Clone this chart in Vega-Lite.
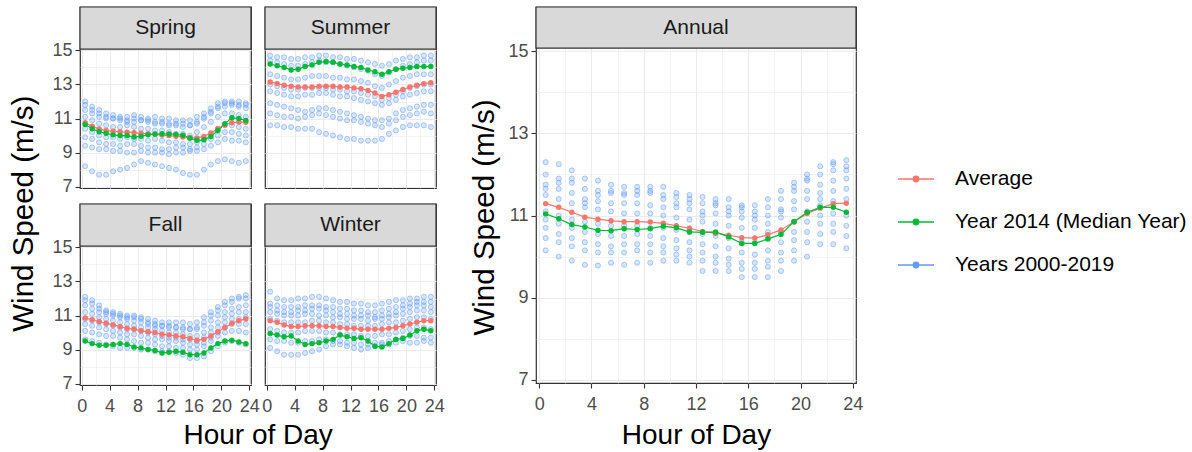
{"$schema":"https://vega.github.io/schema/vega-lite/v6.json","padding":{"left":8,"top":5,"right":0,"bottom":0},"spacing":23,
"config":{"font":"Liberation Sans","view":{"stroke":"#333333","strokeWidth":1.2},
"axis":{"domain":false,"gridColor":"#ebebeb","tickColor":"#333333","tickSize":5,"tickWidth":1.1,"labelColor":"#4d4d4d","labelFontSize":18,"titleFontSize":28,"titleFontWeight":"normal","titleColor":"#000000","labelOverlap":false,"labelFlush":false,"labelBound":false,"format":"d"},
"axisX":{"labelPadding":7,"titlePadding":8},"axisY":{"labelPadding":3,"titlePadding":6,"titleFontSize":29.5},
"title":{"fontSize":28,"fontWeight":"normal","color":"#000000"}},
"datasets":{"d":[
{"p":"Spring","s":"A","h":0.5,"v":10.75},{"p":"Spring","s":"A","h":1.5,"v":10.55},{"p":"Spring","s":"A","h":2.5,"v":10.38},{"p":"Spring","s":"A","h":3.5,"v":10.3},{"p":"Spring","s":"A","h":4.5,"v":10.25},{"p":"Spring","s":"A","h":5.5,"v":10.22},{"p":"Spring","s":"A","h":6.5,"v":10.2},{"p":"Spring","s":"A","h":7.5,"v":10.17},{"p":"Spring","s":"A","h":8.5,"v":10.13},{"p":"Spring","s":"A","h":9.5,"v":10.1},{"p":"Spring","s":"A","h":10.5,"v":10.07},{"p":"Spring","s":"A","h":11.5,"v":10.03},{"p":"Spring","s":"A","h":12.5,"v":10.0},{"p":"Spring","s":"A","h":13.5,"v":9.96},{"p":"Spring","s":"A","h":14.5,"v":9.92},{"p":"Spring","s":"A","h":15.5,"v":9.88},{"p":"Spring","s":"A","h":16.5,"v":9.86},{"p":"Spring","s":"A","h":17.5,"v":9.95},{"p":"Spring","s":"A","h":18.5,"v":10.15},{"p":"Spring","s":"A","h":19.5,"v":10.4},{"p":"Spring","s":"A","h":20.5,"v":10.62},{"p":"Spring","s":"A","h":21.5,"v":10.75},{"p":"Spring","s":"A","h":22.5,"v":10.8},{"p":"Spring","s":"A","h":23.5,"v":10.78},
{"p":"Spring","s":"M","h":0.5,"v":10.65},{"p":"Spring","s":"M","h":1.5,"v":10.4},{"p":"Spring","s":"M","h":2.5,"v":10.23},{"p":"Spring","s":"M","h":3.5,"v":10.13},{"p":"Spring","s":"M","h":4.5,"v":10.04},{"p":"Spring","s":"M","h":5.5,"v":10.0},{"p":"Spring","s":"M","h":6.5,"v":10.0},{"p":"Spring","s":"M","h":7.5,"v":9.92},{"p":"Spring","s":"M","h":8.5,"v":9.96},{"p":"Spring","s":"M","h":9.5,"v":10.04},{"p":"Spring","s":"M","h":10.5,"v":10.09},{"p":"Spring","s":"M","h":11.5,"v":10.1},{"p":"Spring","s":"M","h":12.5,"v":10.09},{"p":"Spring","s":"M","h":13.5,"v":10.07},{"p":"Spring","s":"M","h":14.5,"v":10.02},{"p":"Spring","s":"M","h":15.5,"v":9.84},{"p":"Spring","s":"M","h":16.5,"v":9.72},{"p":"Spring","s":"M","h":17.5,"v":9.75},{"p":"Spring","s":"M","h":18.5,"v":9.95},{"p":"Spring","s":"M","h":19.5,"v":10.3},{"p":"Spring","s":"M","h":20.5,"v":10.7},{"p":"Spring","s":"M","h":21.5,"v":11.04},{"p":"Spring","s":"M","h":22.5,"v":11.0},{"p":"Spring","s":"M","h":23.5,"v":10.88},
{"p":"Spring","s":"Y","h":0.5,"v":12.0},{"p":"Spring","s":"Y","h":1.5,"v":11.7},{"p":"Spring","s":"Y","h":2.5,"v":11.5},{"p":"Spring","s":"Y","h":3.5,"v":11.3},{"p":"Spring","s":"Y","h":4.5,"v":11.2},{"p":"Spring","s":"Y","h":5.5,"v":11.1},{"p":"Spring","s":"Y","h":6.5,"v":11.1},{"p":"Spring","s":"Y","h":7.5,"v":11.2},{"p":"Spring","s":"Y","h":8.5,"v":11.1},{"p":"Spring","s":"Y","h":9.5,"v":11.0},{"p":"Spring","s":"Y","h":10.5,"v":11.1},{"p":"Spring","s":"Y","h":11.5,"v":11.0},{"p":"Spring","s":"Y","h":12.5,"v":11.0},{"p":"Spring","s":"Y","h":13.5,"v":10.9},{"p":"Spring","s":"Y","h":14.5,"v":10.9},{"p":"Spring","s":"Y","h":15.5,"v":10.9},{"p":"Spring","s":"Y","h":16.5,"v":11.1},{"p":"Spring","s":"Y","h":17.5,"v":11.3},{"p":"Spring","s":"Y","h":18.5,"v":11.6},{"p":"Spring","s":"Y","h":19.5,"v":11.9},{"p":"Spring","s":"Y","h":20.5,"v":12.0},{"p":"Spring","s":"Y","h":21.5,"v":12.0},{"p":"Spring","s":"Y","h":22.5,"v":12.0},{"p":"Spring","s":"Y","h":23.5,"v":11.9},
{"p":"Spring","s":"Y","h":0.5,"v":11.5},{"p":"Spring","s":"Y","h":1.5,"v":11.3},{"p":"Spring","s":"Y","h":2.5,"v":11.1},{"p":"Spring","s":"Y","h":3.5,"v":11.0},{"p":"Spring","s":"Y","h":4.5,"v":11.0},{"p":"Spring","s":"Y","h":5.5,"v":10.9},{"p":"Spring","s":"Y","h":6.5,"v":10.8},{"p":"Spring","s":"Y","h":7.5,"v":10.8},{"p":"Spring","s":"Y","h":8.5,"v":10.9},{"p":"Spring","s":"Y","h":9.5,"v":10.8},{"p":"Spring","s":"Y","h":10.5,"v":10.7},{"p":"Spring","s":"Y","h":11.5,"v":10.7},{"p":"Spring","s":"Y","h":12.5,"v":10.6},{"p":"Spring","s":"Y","h":13.5,"v":10.6},{"p":"Spring","s":"Y","h":14.5,"v":10.5},{"p":"Spring","s":"Y","h":15.5,"v":10.6},{"p":"Spring","s":"Y","h":16.5,"v":10.8},{"p":"Spring","s":"Y","h":17.5,"v":11.1},{"p":"Spring","s":"Y","h":18.5,"v":11.3},{"p":"Spring","s":"Y","h":19.5,"v":11.6},{"p":"Spring","s":"Y","h":20.5,"v":11.7},{"p":"Spring","s":"Y","h":21.5,"v":11.8},{"p":"Spring","s":"Y","h":22.5,"v":11.7},{"p":"Spring","s":"Y","h":23.5,"v":11.6},
{"p":"Spring","s":"Y","h":0.5,"v":11.1},{"p":"Spring","s":"Y","h":1.5,"v":10.9},{"p":"Spring","s":"Y","h":2.5,"v":10.7},{"p":"Spring","s":"Y","h":3.5,"v":10.6},{"p":"Spring","s":"Y","h":4.5,"v":10.5},{"p":"Spring","s":"Y","h":5.5,"v":10.5},{"p":"Spring","s":"Y","h":6.5,"v":10.6},{"p":"Spring","s":"Y","h":7.5,"v":10.5},{"p":"Spring","s":"Y","h":8.5,"v":10.4},{"p":"Spring","s":"Y","h":9.5,"v":10.4},{"p":"Spring","s":"Y","h":10.5,"v":10.3},{"p":"Spring","s":"Y","h":11.5,"v":10.3},{"p":"Spring","s":"Y","h":12.5,"v":10.2},{"p":"Spring","s":"Y","h":13.5,"v":10.1},{"p":"Spring","s":"Y","h":14.5,"v":10.1},{"p":"Spring","s":"Y","h":15.5,"v":10.0},{"p":"Spring","s":"Y","h":16.5,"v":10.2},{"p":"Spring","s":"Y","h":17.5,"v":10.5},{"p":"Spring","s":"Y","h":18.5,"v":10.8},{"p":"Spring","s":"Y","h":19.5,"v":11.1},{"p":"Spring","s":"Y","h":20.5,"v":11.3},{"p":"Spring","s":"Y","h":21.5,"v":11.3},{"p":"Spring","s":"Y","h":22.5,"v":11.2},{"p":"Spring","s":"Y","h":23.5,"v":11.1},
{"p":"Spring","s":"Y","h":0.5,"v":10.4},{"p":"Spring","s":"Y","h":1.5,"v":10.2},{"p":"Spring","s":"Y","h":2.5,"v":10.0},{"p":"Spring","s":"Y","h":3.5,"v":9.9},{"p":"Spring","s":"Y","h":4.5,"v":9.9},{"p":"Spring","s":"Y","h":5.5,"v":9.8},{"p":"Spring","s":"Y","h":6.5,"v":9.9},{"p":"Spring","s":"Y","h":7.5,"v":9.8},{"p":"Spring","s":"Y","h":8.5,"v":9.8},{"p":"Spring","s":"Y","h":9.5,"v":9.7},{"p":"Spring","s":"Y","h":10.5,"v":9.8},{"p":"Spring","s":"Y","h":11.5,"v":9.7},{"p":"Spring","s":"Y","h":12.5,"v":9.6},{"p":"Spring","s":"Y","h":13.5,"v":9.6},{"p":"Spring","s":"Y","h":14.5,"v":9.5},{"p":"Spring","s":"Y","h":15.5,"v":9.5},{"p":"Spring","s":"Y","h":16.5,"v":9.6},{"p":"Spring","s":"Y","h":17.5,"v":9.8},{"p":"Spring","s":"Y","h":18.5,"v":10.1},{"p":"Spring","s":"Y","h":19.5,"v":10.4},{"p":"Spring","s":"Y","h":20.5,"v":10.6},{"p":"Spring","s":"Y","h":21.5,"v":10.6},{"p":"Spring","s":"Y","h":22.5,"v":10.5},{"p":"Spring","s":"Y","h":23.5,"v":10.4},
{"p":"Spring","s":"Y","h":0.5,"v":9.9},{"p":"Spring","s":"Y","h":1.5,"v":9.8},{"p":"Spring","s":"Y","h":2.5,"v":9.6},{"p":"Spring","s":"Y","h":3.5,"v":9.5},{"p":"Spring","s":"Y","h":4.5,"v":9.5},{"p":"Spring","s":"Y","h":5.5,"v":9.4},{"p":"Spring","s":"Y","h":6.5,"v":9.5},{"p":"Spring","s":"Y","h":7.5,"v":9.5},{"p":"Spring","s":"Y","h":8.5,"v":9.4},{"p":"Spring","s":"Y","h":9.5,"v":9.3},{"p":"Spring","s":"Y","h":10.5,"v":9.3},{"p":"Spring","s":"Y","h":11.5,"v":9.2},{"p":"Spring","s":"Y","h":12.5,"v":9.2},{"p":"Spring","s":"Y","h":13.5,"v":9.3},{"p":"Spring","s":"Y","h":14.5,"v":9.3},{"p":"Spring","s":"Y","h":15.5,"v":9.2},{"p":"Spring","s":"Y","h":16.5,"v":9.3},{"p":"Spring","s":"Y","h":17.5,"v":9.5},{"p":"Spring","s":"Y","h":18.5,"v":9.8},{"p":"Spring","s":"Y","h":19.5,"v":10.0},{"p":"Spring","s":"Y","h":20.5,"v":10.2},{"p":"Spring","s":"Y","h":21.5,"v":10.2},{"p":"Spring","s":"Y","h":22.5,"v":10.1},{"p":"Spring","s":"Y","h":23.5,"v":10.0},
{"p":"Spring","s":"Y","h":0.5,"v":9.4},{"p":"Spring","s":"Y","h":1.5,"v":9.3},{"p":"Spring","s":"Y","h":2.5,"v":9.2},{"p":"Spring","s":"Y","h":3.5,"v":9.2},{"p":"Spring","s":"Y","h":4.5,"v":9.1},{"p":"Spring","s":"Y","h":5.5,"v":9.1},{"p":"Spring","s":"Y","h":6.5,"v":9.0},{"p":"Spring","s":"Y","h":7.5,"v":9.0},{"p":"Spring","s":"Y","h":8.5,"v":9.1},{"p":"Spring","s":"Y","h":9.5,"v":9.0},{"p":"Spring","s":"Y","h":10.5,"v":9.0},{"p":"Spring","s":"Y","h":11.5,"v":9.0},{"p":"Spring","s":"Y","h":12.5,"v":8.9},{"p":"Spring","s":"Y","h":13.5,"v":9.0},{"p":"Spring","s":"Y","h":14.5,"v":9.0},{"p":"Spring","s":"Y","h":15.5,"v":9.1},{"p":"Spring","s":"Y","h":16.5,"v":9.1},{"p":"Spring","s":"Y","h":17.5,"v":9.2},{"p":"Spring","s":"Y","h":18.5,"v":9.4},{"p":"Spring","s":"Y","h":19.5,"v":9.6},{"p":"Spring","s":"Y","h":20.5,"v":9.8},{"p":"Spring","s":"Y","h":21.5,"v":9.7},{"p":"Spring","s":"Y","h":22.5,"v":9.7},{"p":"Spring","s":"Y","h":23.5,"v":9.6},
{"p":"Spring","s":"Y","h":0.5,"v":8.2},{"p":"Spring","s":"Y","h":1.5,"v":7.9},{"p":"Spring","s":"Y","h":2.5,"v":7.7},{"p":"Spring","s":"Y","h":3.5,"v":7.7},{"p":"Spring","s":"Y","h":4.5,"v":7.9},{"p":"Spring","s":"Y","h":5.5,"v":8.0},{"p":"Spring","s":"Y","h":6.5,"v":8.1},{"p":"Spring","s":"Y","h":7.5,"v":8.3},{"p":"Spring","s":"Y","h":8.5,"v":8.5},{"p":"Spring","s":"Y","h":9.5,"v":8.4},{"p":"Spring","s":"Y","h":10.5,"v":8.3},{"p":"Spring","s":"Y","h":11.5,"v":8.2},{"p":"Spring","s":"Y","h":12.5,"v":8.1},{"p":"Spring","s":"Y","h":13.5,"v":8.0},{"p":"Spring","s":"Y","h":14.5,"v":7.8},{"p":"Spring","s":"Y","h":15.5,"v":7.7},{"p":"Spring","s":"Y","h":16.5,"v":7.7},{"p":"Spring","s":"Y","h":17.5,"v":8.0},{"p":"Spring","s":"Y","h":18.5,"v":8.3},{"p":"Spring","s":"Y","h":19.5,"v":8.5},{"p":"Spring","s":"Y","h":20.5,"v":8.6},{"p":"Spring","s":"Y","h":21.5,"v":8.5},{"p":"Spring","s":"Y","h":22.5,"v":8.4},{"p":"Spring","s":"Y","h":23.5,"v":8.5},
{"p":"Spring","s":"Y","h":0.5,"v":11.8},{"p":"Spring","s":"Y","h":1.5,"v":11.5},{"p":"Spring","s":"Y","h":2.5,"v":11.3},{"p":"Spring","s":"Y","h":3.5,"v":11.1},{"p":"Spring","s":"Y","h":4.5,"v":11.0},{"p":"Spring","s":"Y","h":5.5,"v":11.0},{"p":"Spring","s":"Y","h":6.5,"v":10.9},{"p":"Spring","s":"Y","h":7.5,"v":11.0},{"p":"Spring","s":"Y","h":8.5,"v":10.9},{"p":"Spring","s":"Y","h":9.5,"v":10.9},{"p":"Spring","s":"Y","h":10.5,"v":10.8},{"p":"Spring","s":"Y","h":11.5,"v":10.8},{"p":"Spring","s":"Y","h":12.5,"v":10.7},{"p":"Spring","s":"Y","h":13.5,"v":10.7},{"p":"Spring","s":"Y","h":14.5,"v":10.7},{"p":"Spring","s":"Y","h":15.5,"v":10.6},{"p":"Spring","s":"Y","h":16.5,"v":10.7},{"p":"Spring","s":"Y","h":17.5,"v":11.0},{"p":"Spring","s":"Y","h":18.5,"v":11.4},{"p":"Spring","s":"Y","h":19.5,"v":11.7},{"p":"Spring","s":"Y","h":20.5,"v":11.9},{"p":"Spring","s":"Y","h":21.5,"v":11.9},{"p":"Spring","s":"Y","h":22.5,"v":11.8},{"p":"Spring","s":"Y","h":23.5,"v":11.8},
{"p":"Summer","s":"A","h":0.5,"v":13.15},{"p":"Summer","s":"A","h":1.5,"v":13.05},{"p":"Summer","s":"A","h":2.5,"v":12.95},{"p":"Summer","s":"A","h":3.5,"v":12.9},{"p":"Summer","s":"A","h":4.5,"v":12.85},{"p":"Summer","s":"A","h":5.5,"v":12.85},{"p":"Summer","s":"A","h":6.5,"v":12.85},{"p":"Summer","s":"A","h":7.5,"v":12.9},{"p":"Summer","s":"A","h":8.5,"v":12.9},{"p":"Summer","s":"A","h":9.5,"v":12.9},{"p":"Summer","s":"A","h":10.5,"v":12.85},{"p":"Summer","s":"A","h":11.5,"v":12.85},{"p":"Summer","s":"A","h":12.5,"v":12.8},{"p":"Summer","s":"A","h":13.5,"v":12.75},{"p":"Summer","s":"A","h":14.5,"v":12.65},{"p":"Summer","s":"A","h":15.5,"v":12.5},{"p":"Summer","s":"A","h":16.5,"v":12.3},{"p":"Summer","s":"A","h":17.5,"v":12.4},{"p":"Summer","s":"A","h":18.5,"v":12.55},{"p":"Summer","s":"A","h":19.5,"v":12.7},{"p":"Summer","s":"A","h":20.5,"v":12.85},{"p":"Summer","s":"A","h":21.5,"v":12.95},{"p":"Summer","s":"A","h":22.5,"v":13.05},{"p":"Summer","s":"A","h":23.5,"v":13.1},
{"p":"Summer","s":"M","h":0.5,"v":14.2},{"p":"Summer","s":"M","h":1.5,"v":14.1},{"p":"Summer","s":"M","h":2.5,"v":14.0},{"p":"Summer","s":"M","h":3.5,"v":13.85},{"p":"Summer","s":"M","h":4.5,"v":13.9},{"p":"Summer","s":"M","h":5.5,"v":14.05},{"p":"Summer","s":"M","h":6.5,"v":14.15},{"p":"Summer","s":"M","h":7.5,"v":14.3},{"p":"Summer","s":"M","h":8.5,"v":14.35},{"p":"Summer","s":"M","h":9.5,"v":14.3},{"p":"Summer","s":"M","h":10.5,"v":14.2},{"p":"Summer","s":"M","h":11.5,"v":14.15},{"p":"Summer","s":"M","h":12.5,"v":14.05},{"p":"Summer","s":"M","h":13.5,"v":14.0},{"p":"Summer","s":"M","h":14.5,"v":13.85},{"p":"Summer","s":"M","h":15.5,"v":13.75},{"p":"Summer","s":"M","h":16.5,"v":13.6},{"p":"Summer","s":"M","h":17.5,"v":13.75},{"p":"Summer","s":"M","h":18.5,"v":13.9},{"p":"Summer","s":"M","h":19.5,"v":13.95},{"p":"Summer","s":"M","h":20.5,"v":14.0},{"p":"Summer","s":"M","h":21.5,"v":14.05},{"p":"Summer","s":"M","h":22.5,"v":14.05},{"p":"Summer","s":"M","h":23.5,"v":14.05},
{"p":"Summer","s":"Y","h":0.5,"v":14.7},{"p":"Summer","s":"Y","h":1.5,"v":14.6},{"p":"Summer","s":"Y","h":2.5,"v":14.6},{"p":"Summer","s":"Y","h":3.5,"v":14.5},{"p":"Summer","s":"Y","h":4.5,"v":14.5},{"p":"Summer","s":"Y","h":5.5,"v":14.6},{"p":"Summer","s":"Y","h":6.5,"v":14.6},{"p":"Summer","s":"Y","h":7.5,"v":14.7},{"p":"Summer","s":"Y","h":8.5,"v":14.7},{"p":"Summer","s":"Y","h":9.5,"v":14.6},{"p":"Summer","s":"Y","h":10.5,"v":14.6},{"p":"Summer","s":"Y","h":11.5,"v":14.5},{"p":"Summer","s":"Y","h":12.5,"v":14.5},{"p":"Summer","s":"Y","h":13.5,"v":14.4},{"p":"Summer","s":"Y","h":14.5,"v":14.3},{"p":"Summer","s":"Y","h":15.5,"v":14.2},{"p":"Summer","s":"Y","h":16.5,"v":14.1},{"p":"Summer","s":"Y","h":17.5,"v":14.2},{"p":"Summer","s":"Y","h":18.5,"v":14.4},{"p":"Summer","s":"Y","h":19.5,"v":14.5},{"p":"Summer","s":"Y","h":20.5,"v":14.6},{"p":"Summer","s":"Y","h":21.5,"v":14.6},{"p":"Summer","s":"Y","h":22.5,"v":14.7},{"p":"Summer","s":"Y","h":23.5,"v":14.7},
{"p":"Summer","s":"Y","h":0.5,"v":14.4},{"p":"Summer","s":"Y","h":1.5,"v":14.3},{"p":"Summer","s":"Y","h":2.5,"v":14.2},{"p":"Summer","s":"Y","h":3.5,"v":14.1},{"p":"Summer","s":"Y","h":4.5,"v":14.1},{"p":"Summer","s":"Y","h":5.5,"v":14.2},{"p":"Summer","s":"Y","h":6.5,"v":14.3},{"p":"Summer","s":"Y","h":7.5,"v":14.4},{"p":"Summer","s":"Y","h":8.5,"v":14.3},{"p":"Summer","s":"Y","h":9.5,"v":14.3},{"p":"Summer","s":"Y","h":10.5,"v":14.2},{"p":"Summer","s":"Y","h":11.5,"v":14.1},{"p":"Summer","s":"Y","h":12.5,"v":14.0},{"p":"Summer","s":"Y","h":13.5,"v":13.9},{"p":"Summer","s":"Y","h":14.5,"v":13.8},{"p":"Summer","s":"Y","h":15.5,"v":13.6},{"p":"Summer","s":"Y","h":16.5,"v":13.5},{"p":"Summer","s":"Y","h":17.5,"v":13.7},{"p":"Summer","s":"Y","h":18.5,"v":13.9},{"p":"Summer","s":"Y","h":19.5,"v":14.1},{"p":"Summer","s":"Y","h":20.5,"v":14.2},{"p":"Summer","s":"Y","h":21.5,"v":14.3},{"p":"Summer","s":"Y","h":22.5,"v":14.4},{"p":"Summer","s":"Y","h":23.5,"v":14.4},
{"p":"Summer","s":"Y","h":0.5,"v":13.6},{"p":"Summer","s":"Y","h":1.5,"v":13.5},{"p":"Summer","s":"Y","h":2.5,"v":13.4},{"p":"Summer","s":"Y","h":3.5,"v":13.3},{"p":"Summer","s":"Y","h":4.5,"v":13.3},{"p":"Summer","s":"Y","h":5.5,"v":13.4},{"p":"Summer","s":"Y","h":6.5,"v":13.5},{"p":"Summer","s":"Y","h":7.5,"v":13.5},{"p":"Summer","s":"Y","h":8.5,"v":13.5},{"p":"Summer","s":"Y","h":9.5,"v":13.4},{"p":"Summer","s":"Y","h":10.5,"v":13.4},{"p":"Summer","s":"Y","h":11.5,"v":13.3},{"p":"Summer","s":"Y","h":12.5,"v":13.3},{"p":"Summer","s":"Y","h":13.5,"v":13.2},{"p":"Summer","s":"Y","h":14.5,"v":13.1},{"p":"Summer","s":"Y","h":15.5,"v":12.9},{"p":"Summer","s":"Y","h":16.5,"v":12.8},{"p":"Summer","s":"Y","h":17.5,"v":13.0},{"p":"Summer","s":"Y","h":18.5,"v":13.2},{"p":"Summer","s":"Y","h":19.5,"v":13.4},{"p":"Summer","s":"Y","h":20.5,"v":13.5},{"p":"Summer","s":"Y","h":21.5,"v":13.6},{"p":"Summer","s":"Y","h":22.5,"v":13.6},{"p":"Summer","s":"Y","h":23.5,"v":13.6},
{"p":"Summer","s":"Y","h":0.5,"v":13.0},{"p":"Summer","s":"Y","h":1.5,"v":12.9},{"p":"Summer","s":"Y","h":2.5,"v":12.8},{"p":"Summer","s":"Y","h":3.5,"v":12.7},{"p":"Summer","s":"Y","h":4.5,"v":12.7},{"p":"Summer","s":"Y","h":5.5,"v":12.8},{"p":"Summer","s":"Y","h":6.5,"v":12.8},{"p":"Summer","s":"Y","h":7.5,"v":12.8},{"p":"Summer","s":"Y","h":8.5,"v":12.8},{"p":"Summer","s":"Y","h":9.5,"v":12.7},{"p":"Summer","s":"Y","h":10.5,"v":12.7},{"p":"Summer","s":"Y","h":11.5,"v":12.6},{"p":"Summer","s":"Y","h":12.5,"v":12.6},{"p":"Summer","s":"Y","h":13.5,"v":12.5},{"p":"Summer","s":"Y","h":14.5,"v":12.4},{"p":"Summer","s":"Y","h":15.5,"v":12.3},{"p":"Summer","s":"Y","h":16.5,"v":12.1},{"p":"Summer","s":"Y","h":17.5,"v":12.2},{"p":"Summer","s":"Y","h":18.5,"v":12.4},{"p":"Summer","s":"Y","h":19.5,"v":12.6},{"p":"Summer","s":"Y","h":20.5,"v":12.8},{"p":"Summer","s":"Y","h":21.5,"v":12.9},{"p":"Summer","s":"Y","h":22.5,"v":13.0},{"p":"Summer","s":"Y","h":23.5,"v":13.0},
{"p":"Summer","s":"Y","h":0.5,"v":12.6},{"p":"Summer","s":"Y","h":1.5,"v":12.5},{"p":"Summer","s":"Y","h":2.5,"v":12.4},{"p":"Summer","s":"Y","h":3.5,"v":12.3},{"p":"Summer","s":"Y","h":4.5,"v":12.3},{"p":"Summer","s":"Y","h":5.5,"v":12.4},{"p":"Summer","s":"Y","h":6.5,"v":12.4},{"p":"Summer","s":"Y","h":7.5,"v":12.5},{"p":"Summer","s":"Y","h":8.5,"v":12.5},{"p":"Summer","s":"Y","h":9.5,"v":12.4},{"p":"Summer","s":"Y","h":10.5,"v":12.3},{"p":"Summer","s":"Y","h":11.5,"v":12.3},{"p":"Summer","s":"Y","h":12.5,"v":12.2},{"p":"Summer","s":"Y","h":13.5,"v":12.1},{"p":"Summer","s":"Y","h":14.5,"v":12.0},{"p":"Summer","s":"Y","h":15.5,"v":11.9},{"p":"Summer","s":"Y","h":16.5,"v":11.8},{"p":"Summer","s":"Y","h":17.5,"v":11.9},{"p":"Summer","s":"Y","h":18.5,"v":12.1},{"p":"Summer","s":"Y","h":19.5,"v":12.3},{"p":"Summer","s":"Y","h":20.5,"v":12.4},{"p":"Summer","s":"Y","h":21.5,"v":12.5},{"p":"Summer","s":"Y","h":22.5,"v":12.6},{"p":"Summer","s":"Y","h":23.5,"v":12.6},
{"p":"Summer","s":"Y","h":0.5,"v":11.9},{"p":"Summer","s":"Y","h":1.5,"v":11.8},{"p":"Summer","s":"Y","h":2.5,"v":11.7},{"p":"Summer","s":"Y","h":3.5,"v":11.6},{"p":"Summer","s":"Y","h":4.5,"v":11.5},{"p":"Summer","s":"Y","h":5.5,"v":11.4},{"p":"Summer","s":"Y","h":6.5,"v":11.5},{"p":"Summer","s":"Y","h":7.5,"v":11.6},{"p":"Summer","s":"Y","h":8.5,"v":11.6},{"p":"Summer","s":"Y","h":9.5,"v":11.5},{"p":"Summer","s":"Y","h":10.5,"v":11.4},{"p":"Summer","s":"Y","h":11.5,"v":11.3},{"p":"Summer","s":"Y","h":12.5,"v":11.2},{"p":"Summer","s":"Y","h":13.5,"v":11.1},{"p":"Summer","s":"Y","h":14.5,"v":11.0},{"p":"Summer","s":"Y","h":15.5,"v":10.9},{"p":"Summer","s":"Y","h":16.5,"v":10.9},{"p":"Summer","s":"Y","h":17.5,"v":11.0},{"p":"Summer","s":"Y","h":18.5,"v":11.3},{"p":"Summer","s":"Y","h":19.5,"v":11.5},{"p":"Summer","s":"Y","h":20.5,"v":11.6},{"p":"Summer","s":"Y","h":21.5,"v":11.7},{"p":"Summer","s":"Y","h":22.5,"v":11.8},{"p":"Summer","s":"Y","h":23.5,"v":11.8},
{"p":"Summer","s":"Y","h":0.5,"v":10.6},{"p":"Summer","s":"Y","h":1.5,"v":10.6},{"p":"Summer","s":"Y","h":2.5,"v":10.5},{"p":"Summer","s":"Y","h":3.5,"v":10.5},{"p":"Summer","s":"Y","h":4.5,"v":10.4},{"p":"Summer","s":"Y","h":5.5,"v":10.4},{"p":"Summer","s":"Y","h":6.5,"v":10.4},{"p":"Summer","s":"Y","h":7.5,"v":10.2},{"p":"Summer","s":"Y","h":8.5,"v":10.1},{"p":"Summer","s":"Y","h":9.5,"v":10.0},{"p":"Summer","s":"Y","h":10.5,"v":9.9},{"p":"Summer","s":"Y","h":11.5,"v":9.8},{"p":"Summer","s":"Y","h":12.5,"v":9.8},{"p":"Summer","s":"Y","h":13.5,"v":9.7},{"p":"Summer","s":"Y","h":14.5,"v":9.7},{"p":"Summer","s":"Y","h":15.5,"v":9.7},{"p":"Summer","s":"Y","h":16.5,"v":9.8},{"p":"Summer","s":"Y","h":17.5,"v":10.1},{"p":"Summer","s":"Y","h":18.5,"v":10.3},{"p":"Summer","s":"Y","h":19.5,"v":10.5},{"p":"Summer","s":"Y","h":20.5,"v":10.6},{"p":"Summer","s":"Y","h":21.5,"v":10.6},{"p":"Summer","s":"Y","h":22.5,"v":10.6},{"p":"Summer","s":"Y","h":23.5,"v":10.5},
{"p":"Summer","s":"Y","h":0.5,"v":11.3},{"p":"Summer","s":"Y","h":1.5,"v":11.2},{"p":"Summer","s":"Y","h":2.5,"v":11.1},{"p":"Summer","s":"Y","h":3.5,"v":11.1},{"p":"Summer","s":"Y","h":4.5,"v":11.0},{"p":"Summer","s":"Y","h":5.5,"v":11.1},{"p":"Summer","s":"Y","h":6.5,"v":11.2},{"p":"Summer","s":"Y","h":7.5,"v":11.3},{"p":"Summer","s":"Y","h":8.5,"v":11.2},{"p":"Summer","s":"Y","h":9.5,"v":11.1},{"p":"Summer","s":"Y","h":10.5,"v":11.0},{"p":"Summer","s":"Y","h":11.5,"v":10.9},{"p":"Summer","s":"Y","h":12.5,"v":10.9},{"p":"Summer","s":"Y","h":13.5,"v":10.8},{"p":"Summer","s":"Y","h":14.5,"v":10.7},{"p":"Summer","s":"Y","h":15.5,"v":10.6},{"p":"Summer","s":"Y","h":16.5,"v":10.5},{"p":"Summer","s":"Y","h":17.5,"v":10.7},{"p":"Summer","s":"Y","h":18.5,"v":10.9},{"p":"Summer","s":"Y","h":19.5,"v":11.1},{"p":"Summer","s":"Y","h":20.5,"v":11.2},{"p":"Summer","s":"Y","h":21.5,"v":11.3},{"p":"Summer","s":"Y","h":22.5,"v":11.4},{"p":"Summer","s":"Y","h":23.5,"v":11.3},
{"p":"Fall","s":"A","h":0.5,"v":10.85},{"p":"Fall","s":"A","h":1.5,"v":10.75},{"p":"Fall","s":"A","h":2.5,"v":10.65},{"p":"Fall","s":"A","h":3.5,"v":10.55},{"p":"Fall","s":"A","h":4.5,"v":10.45},{"p":"Fall","s":"A","h":5.5,"v":10.35},{"p":"Fall","s":"A","h":6.5,"v":10.25},{"p":"Fall","s":"A","h":7.5,"v":10.2},{"p":"Fall","s":"A","h":8.5,"v":10.1},{"p":"Fall","s":"A","h":9.5,"v":10.05},{"p":"Fall","s":"A","h":10.5,"v":10.0},{"p":"Fall","s":"A","h":11.5,"v":9.9},{"p":"Fall","s":"A","h":12.5,"v":9.85},{"p":"Fall","s":"A","h":13.5,"v":9.8},{"p":"Fall","s":"A","h":14.5,"v":9.75},{"p":"Fall","s":"A","h":15.5,"v":9.65},{"p":"Fall","s":"A","h":16.5,"v":9.55},{"p":"Fall","s":"A","h":17.5,"v":9.6},{"p":"Fall","s":"A","h":18.5,"v":9.8},{"p":"Fall","s":"A","h":19.5,"v":10.05},{"p":"Fall","s":"A","h":20.5,"v":10.3},{"p":"Fall","s":"A","h":21.5,"v":10.55},{"p":"Fall","s":"A","h":22.5,"v":10.7},{"p":"Fall","s":"A","h":23.5,"v":10.8},
{"p":"Fall","s":"M","h":0.5,"v":9.5},{"p":"Fall","s":"M","h":1.5,"v":9.35},{"p":"Fall","s":"M","h":2.5,"v":9.25},{"p":"Fall","s":"M","h":3.5,"v":9.25},{"p":"Fall","s":"M","h":4.5,"v":9.3},{"p":"Fall","s":"M","h":5.5,"v":9.35},{"p":"Fall","s":"M","h":6.5,"v":9.3},{"p":"Fall","s":"M","h":7.5,"v":9.15},{"p":"Fall","s":"M","h":8.5,"v":9.1},{"p":"Fall","s":"M","h":9.5,"v":9.0},{"p":"Fall","s":"M","h":10.5,"v":8.95},{"p":"Fall","s":"M","h":11.5,"v":8.8},{"p":"Fall","s":"M","h":12.5,"v":8.85},{"p":"Fall","s":"M","h":13.5,"v":8.9},{"p":"Fall","s":"M","h":14.5,"v":8.85},{"p":"Fall","s":"M","h":15.5,"v":8.7},{"p":"Fall","s":"M","h":16.5,"v":8.7},{"p":"Fall","s":"M","h":17.5,"v":8.8},{"p":"Fall","s":"M","h":18.5,"v":9.1},{"p":"Fall","s":"M","h":19.5,"v":9.35},{"p":"Fall","s":"M","h":20.5,"v":9.5},{"p":"Fall","s":"M","h":21.5,"v":9.55},{"p":"Fall","s":"M","h":22.5,"v":9.45},{"p":"Fall","s":"M","h":23.5,"v":9.35},
{"p":"Fall","s":"Y","h":0.5,"v":12.1},{"p":"Fall","s":"Y","h":1.5,"v":11.9},{"p":"Fall","s":"Y","h":2.5,"v":11.6},{"p":"Fall","s":"Y","h":3.5,"v":11.3},{"p":"Fall","s":"Y","h":4.5,"v":11.2},{"p":"Fall","s":"Y","h":5.5,"v":11.1},{"p":"Fall","s":"Y","h":6.5,"v":11.0},{"p":"Fall","s":"Y","h":7.5,"v":11.0},{"p":"Fall","s":"Y","h":8.5,"v":10.9},{"p":"Fall","s":"Y","h":9.5,"v":10.8},{"p":"Fall","s":"Y","h":10.5,"v":10.7},{"p":"Fall","s":"Y","h":11.5,"v":10.6},{"p":"Fall","s":"Y","h":12.5,"v":10.6},{"p":"Fall","s":"Y","h":13.5,"v":10.6},{"p":"Fall","s":"Y","h":14.5,"v":10.6},{"p":"Fall","s":"Y","h":15.5,"v":10.5},{"p":"Fall","s":"Y","h":16.5,"v":10.6},{"p":"Fall","s":"Y","h":17.5,"v":10.9},{"p":"Fall","s":"Y","h":18.5,"v":11.2},{"p":"Fall","s":"Y","h":19.5,"v":11.5},{"p":"Fall","s":"Y","h":20.5,"v":11.8},{"p":"Fall","s":"Y","h":21.5,"v":12.0},{"p":"Fall","s":"Y","h":22.5,"v":12.1},{"p":"Fall","s":"Y","h":23.5,"v":12.2},
{"p":"Fall","s":"Y","h":0.5,"v":11.6},{"p":"Fall","s":"Y","h":1.5,"v":11.4},{"p":"Fall","s":"Y","h":2.5,"v":11.2},{"p":"Fall","s":"Y","h":3.5,"v":11.1},{"p":"Fall","s":"Y","h":4.5,"v":11.0},{"p":"Fall","s":"Y","h":5.5,"v":10.9},{"p":"Fall","s":"Y","h":6.5,"v":10.8},{"p":"Fall","s":"Y","h":7.5,"v":10.7},{"p":"Fall","s":"Y","h":8.5,"v":10.6},{"p":"Fall","s":"Y","h":9.5,"v":10.5},{"p":"Fall","s":"Y","h":10.5,"v":10.4},{"p":"Fall","s":"Y","h":11.5,"v":10.4},{"p":"Fall","s":"Y","h":12.5,"v":10.3},{"p":"Fall","s":"Y","h":13.5,"v":10.3},{"p":"Fall","s":"Y","h":14.5,"v":10.2},{"p":"Fall","s":"Y","h":15.5,"v":10.2},{"p":"Fall","s":"Y","h":16.5,"v":10.2},{"p":"Fall","s":"Y","h":17.5,"v":10.4},{"p":"Fall","s":"Y","h":18.5,"v":10.7},{"p":"Fall","s":"Y","h":19.5,"v":11.0},{"p":"Fall","s":"Y","h":20.5,"v":11.2},{"p":"Fall","s":"Y","h":21.5,"v":11.4},{"p":"Fall","s":"Y","h":22.5,"v":11.5},{"p":"Fall","s":"Y","h":23.5,"v":11.6},
{"p":"Fall","s":"Y","h":0.5,"v":11.2},{"p":"Fall","s":"Y","h":1.5,"v":11.1},{"p":"Fall","s":"Y","h":2.5,"v":10.9},{"p":"Fall","s":"Y","h":3.5,"v":10.8},{"p":"Fall","s":"Y","h":4.5,"v":10.7},{"p":"Fall","s":"Y","h":5.5,"v":10.6},{"p":"Fall","s":"Y","h":6.5,"v":10.5},{"p":"Fall","s":"Y","h":7.5,"v":10.4},{"p":"Fall","s":"Y","h":8.5,"v":10.3},{"p":"Fall","s":"Y","h":9.5,"v":10.3},{"p":"Fall","s":"Y","h":10.5,"v":10.2},{"p":"Fall","s":"Y","h":11.5,"v":10.1},{"p":"Fall","s":"Y","h":12.5,"v":10.0},{"p":"Fall","s":"Y","h":13.5,"v":10.0},{"p":"Fall","s":"Y","h":14.5,"v":9.9},{"p":"Fall","s":"Y","h":15.5,"v":9.8},{"p":"Fall","s":"Y","h":16.5,"v":9.8},{"p":"Fall","s":"Y","h":17.5,"v":10.0},{"p":"Fall","s":"Y","h":18.5,"v":10.3},{"p":"Fall","s":"Y","h":19.5,"v":10.6},{"p":"Fall","s":"Y","h":20.5,"v":10.9},{"p":"Fall","s":"Y","h":21.5,"v":11.1},{"p":"Fall","s":"Y","h":22.5,"v":11.2},{"p":"Fall","s":"Y","h":23.5,"v":11.2},
{"p":"Fall","s":"Y","h":0.5,"v":10.5},{"p":"Fall","s":"Y","h":1.5,"v":10.4},{"p":"Fall","s":"Y","h":2.5,"v":10.3},{"p":"Fall","s":"Y","h":3.5,"v":10.2},{"p":"Fall","s":"Y","h":4.5,"v":10.1},{"p":"Fall","s":"Y","h":5.5,"v":10.0},{"p":"Fall","s":"Y","h":6.5,"v":9.9},{"p":"Fall","s":"Y","h":7.5,"v":9.9},{"p":"Fall","s":"Y","h":8.5,"v":9.8},{"p":"Fall","s":"Y","h":9.5,"v":9.7},{"p":"Fall","s":"Y","h":10.5,"v":9.6},{"p":"Fall","s":"Y","h":11.5,"v":9.6},{"p":"Fall","s":"Y","h":12.5,"v":9.5},{"p":"Fall","s":"Y","h":13.5,"v":9.5},{"p":"Fall","s":"Y","h":14.5,"v":9.4},{"p":"Fall","s":"Y","h":15.5,"v":9.3},{"p":"Fall","s":"Y","h":16.5,"v":9.3},{"p":"Fall","s":"Y","h":17.5,"v":9.4},{"p":"Fall","s":"Y","h":18.5,"v":9.7},{"p":"Fall","s":"Y","h":19.5,"v":10.0},{"p":"Fall","s":"Y","h":20.5,"v":10.3},{"p":"Fall","s":"Y","h":21.5,"v":10.5},{"p":"Fall","s":"Y","h":22.5,"v":10.5},{"p":"Fall","s":"Y","h":23.5,"v":10.5},
{"p":"Fall","s":"Y","h":0.5,"v":10.1},{"p":"Fall","s":"Y","h":1.5,"v":10.0},{"p":"Fall","s":"Y","h":2.5,"v":9.9},{"p":"Fall","s":"Y","h":3.5,"v":9.8},{"p":"Fall","s":"Y","h":4.5,"v":9.8},{"p":"Fall","s":"Y","h":5.5,"v":9.7},{"p":"Fall","s":"Y","h":6.5,"v":9.6},{"p":"Fall","s":"Y","h":7.5,"v":9.5},{"p":"Fall","s":"Y","h":8.5,"v":9.4},{"p":"Fall","s":"Y","h":9.5,"v":9.4},{"p":"Fall","s":"Y","h":10.5,"v":9.3},{"p":"Fall","s":"Y","h":11.5,"v":9.2},{"p":"Fall","s":"Y","h":12.5,"v":9.2},{"p":"Fall","s":"Y","h":13.5,"v":9.1},{"p":"Fall","s":"Y","h":14.5,"v":9.1},{"p":"Fall","s":"Y","h":15.5,"v":9.0},{"p":"Fall","s":"Y","h":16.5,"v":9.0},{"p":"Fall","s":"Y","h":17.5,"v":9.2},{"p":"Fall","s":"Y","h":18.5,"v":9.5},{"p":"Fall","s":"Y","h":19.5,"v":9.8},{"p":"Fall","s":"Y","h":20.5,"v":10.0},{"p":"Fall","s":"Y","h":21.5,"v":10.1},{"p":"Fall","s":"Y","h":22.5,"v":10.1},{"p":"Fall","s":"Y","h":23.5,"v":10.0},
{"p":"Fall","s":"Y","h":0.5,"v":9.6},{"p":"Fall","s":"Y","h":1.5,"v":9.5},{"p":"Fall","s":"Y","h":2.5,"v":9.4},{"p":"Fall","s":"Y","h":3.5,"v":9.3},{"p":"Fall","s":"Y","h":4.5,"v":9.2},{"p":"Fall","s":"Y","h":5.5,"v":9.1},{"p":"Fall","s":"Y","h":6.5,"v":9.1},{"p":"Fall","s":"Y","h":7.5,"v":9.1},{"p":"Fall","s":"Y","h":8.5,"v":9.0},{"p":"Fall","s":"Y","h":9.5,"v":9.0},{"p":"Fall","s":"Y","h":10.5,"v":8.9},{"p":"Fall","s":"Y","h":11.5,"v":8.9},{"p":"Fall","s":"Y","h":12.5,"v":8.9},{"p":"Fall","s":"Y","h":13.5,"v":8.8},{"p":"Fall","s":"Y","h":14.5,"v":8.7},{"p":"Fall","s":"Y","h":15.5,"v":8.5},{"p":"Fall","s":"Y","h":16.5,"v":8.5},{"p":"Fall","s":"Y","h":17.5,"v":8.6},{"p":"Fall","s":"Y","h":18.5,"v":8.9},{"p":"Fall","s":"Y","h":19.5,"v":9.2},{"p":"Fall","s":"Y","h":20.5,"v":9.4},{"p":"Fall","s":"Y","h":21.5,"v":9.5},{"p":"Fall","s":"Y","h":22.5,"v":9.4},{"p":"Fall","s":"Y","h":23.5,"v":9.3},
{"p":"Fall","s":"Y","h":0.5,"v":11.9},{"p":"Fall","s":"Y","h":1.5,"v":11.7},{"p":"Fall","s":"Y","h":2.5,"v":11.4},{"p":"Fall","s":"Y","h":3.5,"v":11.2},{"p":"Fall","s":"Y","h":4.5,"v":11.1},{"p":"Fall","s":"Y","h":5.5,"v":11.0},{"p":"Fall","s":"Y","h":6.5,"v":10.9},{"p":"Fall","s":"Y","h":7.5,"v":10.9},{"p":"Fall","s":"Y","h":8.5,"v":10.8},{"p":"Fall","s":"Y","h":9.5,"v":10.6},{"p":"Fall","s":"Y","h":10.5,"v":10.5},{"p":"Fall","s":"Y","h":11.5,"v":10.4},{"p":"Fall","s":"Y","h":12.5,"v":10.4},{"p":"Fall","s":"Y","h":13.5,"v":10.3},{"p":"Fall","s":"Y","h":14.5,"v":10.3},{"p":"Fall","s":"Y","h":15.5,"v":10.2},{"p":"Fall","s":"Y","h":16.5,"v":10.3},{"p":"Fall","s":"Y","h":17.5,"v":10.6},{"p":"Fall","s":"Y","h":18.5,"v":11.0},{"p":"Fall","s":"Y","h":19.5,"v":11.3},{"p":"Fall","s":"Y","h":20.5,"v":11.6},{"p":"Fall","s":"Y","h":21.5,"v":11.8},{"p":"Fall","s":"Y","h":22.5,"v":12.0},{"p":"Fall","s":"Y","h":23.5,"v":12.0},
{"p":"Fall","s":"Y","h":0.5,"v":10.8},{"p":"Fall","s":"Y","h":1.5,"v":10.7},{"p":"Fall","s":"Y","h":2.5,"v":10.6},{"p":"Fall","s":"Y","h":3.5,"v":10.5},{"p":"Fall","s":"Y","h":4.5,"v":10.4},{"p":"Fall","s":"Y","h":5.5,"v":10.3},{"p":"Fall","s":"Y","h":6.5,"v":10.2},{"p":"Fall","s":"Y","h":7.5,"v":10.2},{"p":"Fall","s":"Y","h":8.5,"v":10.1},{"p":"Fall","s":"Y","h":9.5,"v":10.0},{"p":"Fall","s":"Y","h":10.5,"v":9.9},{"p":"Fall","s":"Y","h":11.5,"v":9.8},{"p":"Fall","s":"Y","h":12.5,"v":9.7},{"p":"Fall","s":"Y","h":13.5,"v":9.7},{"p":"Fall","s":"Y","h":14.5,"v":9.6},{"p":"Fall","s":"Y","h":15.5,"v":9.6},{"p":"Fall","s":"Y","h":16.5,"v":9.5},{"p":"Fall","s":"Y","h":17.5,"v":9.7},{"p":"Fall","s":"Y","h":18.5,"v":10.0},{"p":"Fall","s":"Y","h":19.5,"v":10.3},{"p":"Fall","s":"Y","h":20.5,"v":10.6},{"p":"Fall","s":"Y","h":21.5,"v":10.8},{"p":"Fall","s":"Y","h":22.5,"v":10.8},{"p":"Fall","s":"Y","h":23.5,"v":10.9},
{"p":"Winter","s":"A","h":0.5,"v":10.7},{"p":"Winter","s":"A","h":1.5,"v":10.6},{"p":"Winter","s":"A","h":2.5,"v":10.45},{"p":"Winter","s":"A","h":3.5,"v":10.35},{"p":"Winter","s":"A","h":4.5,"v":10.35},{"p":"Winter","s":"A","h":5.5,"v":10.4},{"p":"Winter","s":"A","h":6.5,"v":10.4},{"p":"Winter","s":"A","h":7.5,"v":10.4},{"p":"Winter","s":"A","h":8.5,"v":10.35},{"p":"Winter","s":"A","h":9.5,"v":10.35},{"p":"Winter","s":"A","h":10.5,"v":10.3},{"p":"Winter","s":"A","h":11.5,"v":10.25},{"p":"Winter","s":"A","h":12.5,"v":10.25},{"p":"Winter","s":"A","h":13.5,"v":10.2},{"p":"Winter","s":"A","h":14.5,"v":10.2},{"p":"Winter","s":"A","h":15.5,"v":10.2},{"p":"Winter","s":"A","h":16.5,"v":10.2},{"p":"Winter","s":"A","h":17.5,"v":10.25},{"p":"Winter","s":"A","h":18.5,"v":10.3},{"p":"Winter","s":"A","h":19.5,"v":10.4},{"p":"Winter","s":"A","h":20.5,"v":10.5},{"p":"Winter","s":"A","h":21.5,"v":10.6},{"p":"Winter","s":"A","h":22.5,"v":10.7},{"p":"Winter","s":"A","h":23.5,"v":10.7},
{"p":"Winter","s":"M","h":0.5,"v":9.95},{"p":"Winter","s":"M","h":1.5,"v":9.85},{"p":"Winter","s":"M","h":2.5,"v":9.75},{"p":"Winter","s":"M","h":3.5,"v":9.8},{"p":"Winter","s":"M","h":4.5,"v":9.5},{"p":"Winter","s":"M","h":5.5,"v":9.3},{"p":"Winter","s":"M","h":6.5,"v":9.35},{"p":"Winter","s":"M","h":7.5,"v":9.4},{"p":"Winter","s":"M","h":8.5,"v":9.5},{"p":"Winter","s":"M","h":9.5,"v":9.6},{"p":"Winter","s":"M","h":10.5,"v":9.85},{"p":"Winter","s":"M","h":11.5,"v":9.75},{"p":"Winter","s":"M","h":12.5,"v":9.65},{"p":"Winter","s":"M","h":13.5,"v":9.7},{"p":"Winter","s":"M","h":14.5,"v":9.5},{"p":"Winter","s":"M","h":15.5,"v":9.2},{"p":"Winter","s":"M","h":16.5,"v":9.15},{"p":"Winter","s":"M","h":17.5,"v":9.35},{"p":"Winter","s":"M","h":18.5,"v":9.6},{"p":"Winter","s":"M","h":19.5,"v":9.65},{"p":"Winter","s":"M","h":20.5,"v":9.85},{"p":"Winter","s":"M","h":21.5,"v":10.1},{"p":"Winter","s":"M","h":22.5,"v":10.2},{"p":"Winter","s":"M","h":23.5,"v":10.1},
{"p":"Winter","s":"Y","h":0.5,"v":12.4},{"p":"Winter","s":"Y","h":1.5,"v":12.0},{"p":"Winter","s":"Y","h":2.5,"v":11.9},{"p":"Winter","s":"Y","h":3.5,"v":11.9},{"p":"Winter","s":"Y","h":4.5,"v":12.0},{"p":"Winter","s":"Y","h":5.5,"v":12.0},{"p":"Winter","s":"Y","h":6.5,"v":12.1},{"p":"Winter","s":"Y","h":7.5,"v":12.1},{"p":"Winter","s":"Y","h":8.5,"v":12.0},{"p":"Winter","s":"Y","h":9.5,"v":11.9},{"p":"Winter","s":"Y","h":10.5,"v":11.8},{"p":"Winter","s":"Y","h":11.5,"v":11.8},{"p":"Winter","s":"Y","h":12.5,"v":11.7},{"p":"Winter","s":"Y","h":13.5,"v":11.7},{"p":"Winter","s":"Y","h":14.5,"v":11.6},{"p":"Winter","s":"Y","h":15.5,"v":11.6},{"p":"Winter","s":"Y","h":16.5,"v":11.7},{"p":"Winter","s":"Y","h":17.5,"v":11.8},{"p":"Winter","s":"Y","h":18.5,"v":11.9},{"p":"Winter","s":"Y","h":19.5,"v":11.9},{"p":"Winter","s":"Y","h":20.5,"v":12.0},{"p":"Winter","s":"Y","h":21.5,"v":12.0},{"p":"Winter","s":"Y","h":22.5,"v":12.1},{"p":"Winter","s":"Y","h":23.5,"v":12.1},
{"p":"Winter","s":"Y","h":0.5,"v":11.7},{"p":"Winter","s":"Y","h":1.5,"v":11.6},{"p":"Winter","s":"Y","h":2.5,"v":11.5},{"p":"Winter","s":"Y","h":3.5,"v":11.5},{"p":"Winter","s":"Y","h":4.5,"v":11.5},{"p":"Winter","s":"Y","h":5.5,"v":11.6},{"p":"Winter","s":"Y","h":6.5,"v":11.6},{"p":"Winter","s":"Y","h":7.5,"v":11.6},{"p":"Winter","s":"Y","h":8.5,"v":11.5},{"p":"Winter","s":"Y","h":9.5,"v":11.5},{"p":"Winter","s":"Y","h":10.5,"v":11.4},{"p":"Winter","s":"Y","h":11.5,"v":11.4},{"p":"Winter","s":"Y","h":12.5,"v":11.3},{"p":"Winter","s":"Y","h":13.5,"v":11.3},{"p":"Winter","s":"Y","h":14.5,"v":11.2},{"p":"Winter","s":"Y","h":15.5,"v":11.2},{"p":"Winter","s":"Y","h":16.5,"v":11.3},{"p":"Winter","s":"Y","h":17.5,"v":11.4},{"p":"Winter","s":"Y","h":18.5,"v":11.5},{"p":"Winter","s":"Y","h":19.5,"v":11.6},{"p":"Winter","s":"Y","h":20.5,"v":11.7},{"p":"Winter","s":"Y","h":21.5,"v":11.8},{"p":"Winter","s":"Y","h":22.5,"v":11.8},{"p":"Winter","s":"Y","h":23.5,"v":11.8},
{"p":"Winter","s":"Y","h":0.5,"v":11.2},{"p":"Winter","s":"Y","h":1.5,"v":11.1},{"p":"Winter","s":"Y","h":2.5,"v":11.0},{"p":"Winter","s":"Y","h":3.5,"v":11.0},{"p":"Winter","s":"Y","h":4.5,"v":11.0},{"p":"Winter","s":"Y","h":5.5,"v":11.1},{"p":"Winter","s":"Y","h":6.5,"v":11.1},{"p":"Winter","s":"Y","h":7.5,"v":11.0},{"p":"Winter","s":"Y","h":8.5,"v":11.0},{"p":"Winter","s":"Y","h":9.5,"v":10.9},{"p":"Winter","s":"Y","h":10.5,"v":10.9},{"p":"Winter","s":"Y","h":11.5,"v":10.8},{"p":"Winter","s":"Y","h":12.5,"v":10.8},{"p":"Winter","s":"Y","h":13.5,"v":10.8},{"p":"Winter","s":"Y","h":14.5,"v":10.7},{"p":"Winter","s":"Y","h":15.5,"v":10.8},{"p":"Winter","s":"Y","h":16.5,"v":10.8},{"p":"Winter","s":"Y","h":17.5,"v":10.9},{"p":"Winter","s":"Y","h":18.5,"v":11.0},{"p":"Winter","s":"Y","h":19.5,"v":11.1},{"p":"Winter","s":"Y","h":20.5,"v":11.2},{"p":"Winter","s":"Y","h":21.5,"v":11.3},{"p":"Winter","s":"Y","h":22.5,"v":11.3},{"p":"Winter","s":"Y","h":23.5,"v":11.2},
{"p":"Winter","s":"Y","h":0.5,"v":10.8},{"p":"Winter","s":"Y","h":1.5,"v":10.7},{"p":"Winter","s":"Y","h":2.5,"v":10.6},{"p":"Winter","s":"Y","h":3.5,"v":10.6},{"p":"Winter","s":"Y","h":4.5,"v":10.6},{"p":"Winter","s":"Y","h":5.5,"v":10.6},{"p":"Winter","s":"Y","h":6.5,"v":10.7},{"p":"Winter","s":"Y","h":7.5,"v":10.7},{"p":"Winter","s":"Y","h":8.5,"v":10.6},{"p":"Winter","s":"Y","h":9.5,"v":10.6},{"p":"Winter","s":"Y","h":10.5,"v":10.5},{"p":"Winter","s":"Y","h":11.5,"v":10.5},{"p":"Winter","s":"Y","h":12.5,"v":10.4},{"p":"Winter","s":"Y","h":13.5,"v":10.4},{"p":"Winter","s":"Y","h":14.5,"v":10.4},{"p":"Winter","s":"Y","h":15.5,"v":10.4},{"p":"Winter","s":"Y","h":16.5,"v":10.5},{"p":"Winter","s":"Y","h":17.5,"v":10.6},{"p":"Winter","s":"Y","h":18.5,"v":10.6},{"p":"Winter","s":"Y","h":19.5,"v":10.7},{"p":"Winter","s":"Y","h":20.5,"v":10.8},{"p":"Winter","s":"Y","h":21.5,"v":10.9},{"p":"Winter","s":"Y","h":22.5,"v":10.9},{"p":"Winter","s":"Y","h":23.5,"v":10.8},
{"p":"Winter","s":"Y","h":0.5,"v":10.2},{"p":"Winter","s":"Y","h":1.5,"v":10.1},{"p":"Winter","s":"Y","h":2.5,"v":10.0},{"p":"Winter","s":"Y","h":3.5,"v":10.0},{"p":"Winter","s":"Y","h":4.5,"v":10.0},{"p":"Winter","s":"Y","h":5.5,"v":10.1},{"p":"Winter","s":"Y","h":6.5,"v":10.1},{"p":"Winter","s":"Y","h":7.5,"v":10.1},{"p":"Winter","s":"Y","h":8.5,"v":10.0},{"p":"Winter","s":"Y","h":9.5,"v":10.0},{"p":"Winter","s":"Y","h":10.5,"v":9.9},{"p":"Winter","s":"Y","h":11.5,"v":9.9},{"p":"Winter","s":"Y","h":12.5,"v":9.9},{"p":"Winter","s":"Y","h":13.5,"v":9.8},{"p":"Winter","s":"Y","h":14.5,"v":9.8},{"p":"Winter","s":"Y","h":15.5,"v":9.8},{"p":"Winter","s":"Y","h":16.5,"v":9.9},{"p":"Winter","s":"Y","h":17.5,"v":9.9},{"p":"Winter","s":"Y","h":18.5,"v":10.0},{"p":"Winter","s":"Y","h":19.5,"v":10.1},{"p":"Winter","s":"Y","h":20.5,"v":10.2},{"p":"Winter","s":"Y","h":21.5,"v":10.3},{"p":"Winter","s":"Y","h":22.5,"v":10.3},{"p":"Winter","s":"Y","h":23.5,"v":10.2},
{"p":"Winter","s":"Y","h":0.5,"v":9.6},{"p":"Winter","s":"Y","h":1.5,"v":9.5},{"p":"Winter","s":"Y","h":2.5,"v":9.5},{"p":"Winter","s":"Y","h":3.5,"v":9.4},{"p":"Winter","s":"Y","h":4.5,"v":9.4},{"p":"Winter","s":"Y","h":5.5,"v":9.5},{"p":"Winter","s":"Y","h":6.5,"v":9.5},{"p":"Winter","s":"Y","h":7.5,"v":9.6},{"p":"Winter","s":"Y","h":8.5,"v":9.6},{"p":"Winter","s":"Y","h":9.5,"v":9.5},{"p":"Winter","s":"Y","h":10.5,"v":9.5},{"p":"Winter","s":"Y","h":11.5,"v":9.4},{"p":"Winter","s":"Y","h":12.5,"v":9.4},{"p":"Winter","s":"Y","h":13.5,"v":9.3},{"p":"Winter","s":"Y","h":14.5,"v":9.3},{"p":"Winter","s":"Y","h":15.5,"v":9.4},{"p":"Winter","s":"Y","h":16.5,"v":9.4},{"p":"Winter","s":"Y","h":17.5,"v":9.5},{"p":"Winter","s":"Y","h":18.5,"v":9.6},{"p":"Winter","s":"Y","h":19.5,"v":9.7},{"p":"Winter","s":"Y","h":20.5,"v":9.8},{"p":"Winter","s":"Y","h":21.5,"v":9.8},{"p":"Winter","s":"Y","h":22.5,"v":9.7},{"p":"Winter","s":"Y","h":23.5,"v":9.7},
{"p":"Winter","s":"Y","h":0.5,"v":9.1},{"p":"Winter","s":"Y","h":1.5,"v":8.9},{"p":"Winter","s":"Y","h":2.5,"v":8.7},{"p":"Winter","s":"Y","h":3.5,"v":8.7},{"p":"Winter","s":"Y","h":4.5,"v":8.7},{"p":"Winter","s":"Y","h":5.5,"v":8.8},{"p":"Winter","s":"Y","h":6.5,"v":8.9},{"p":"Winter","s":"Y","h":7.5,"v":9.0},{"p":"Winter","s":"Y","h":8.5,"v":9.2},{"p":"Winter","s":"Y","h":9.5,"v":9.3},{"p":"Winter","s":"Y","h":10.5,"v":9.3},{"p":"Winter","s":"Y","h":11.5,"v":9.2},{"p":"Winter","s":"Y","h":12.5,"v":9.1},{"p":"Winter","s":"Y","h":13.5,"v":9.0},{"p":"Winter","s":"Y","h":14.5,"v":9.1},{"p":"Winter","s":"Y","h":15.5,"v":9.2},{"p":"Winter","s":"Y","h":16.5,"v":9.3},{"p":"Winter","s":"Y","h":17.5,"v":9.3},{"p":"Winter","s":"Y","h":18.5,"v":9.4},{"p":"Winter","s":"Y","h":19.5,"v":9.5},{"p":"Winter","s":"Y","h":20.5,"v":9.4},{"p":"Winter","s":"Y","h":21.5,"v":9.4},{"p":"Winter","s":"Y","h":22.5,"v":9.5},{"p":"Winter","s":"Y","h":23.5,"v":9.4},
{"p":"Winter","s":"Y","h":0.5,"v":11.5},{"p":"Winter","s":"Y","h":1.5,"v":11.3},{"p":"Winter","s":"Y","h":2.5,"v":11.2},{"p":"Winter","s":"Y","h":3.5,"v":11.2},{"p":"Winter","s":"Y","h":4.5,"v":11.3},{"p":"Winter","s":"Y","h":5.5,"v":11.3},{"p":"Winter","s":"Y","h":6.5,"v":11.4},{"p":"Winter","s":"Y","h":7.5,"v":11.4},{"p":"Winter","s":"Y","h":8.5,"v":11.3},{"p":"Winter","s":"Y","h":9.5,"v":11.2},{"p":"Winter","s":"Y","h":10.5,"v":11.1},{"p":"Winter","s":"Y","h":11.5,"v":11.1},{"p":"Winter","s":"Y","h":12.5,"v":11.0},{"p":"Winter","s":"Y","h":13.5,"v":11.0},{"p":"Winter","s":"Y","h":14.5,"v":11.0},{"p":"Winter","s":"Y","h":15.5,"v":10.9},{"p":"Winter","s":"Y","h":16.5,"v":11.0},{"p":"Winter","s":"Y","h":17.5,"v":11.1},{"p":"Winter","s":"Y","h":18.5,"v":11.2},{"p":"Winter","s":"Y","h":19.5,"v":11.4},{"p":"Winter","s":"Y","h":20.5,"v":11.5},{"p":"Winter","s":"Y","h":21.5,"v":11.6},{"p":"Winter","s":"Y","h":22.5,"v":11.6},{"p":"Winter","s":"Y","h":23.5,"v":11.5},
{"p":"Annual","s":"A","h":0.5,"v":11.29},{"p":"Annual","s":"A","h":1.5,"v":11.2},{"p":"Annual","s":"A","h":2.5,"v":11.08},{"p":"Annual","s":"A","h":3.5,"v":10.96},{"p":"Annual","s":"A","h":4.5,"v":10.91},{"p":"Annual","s":"A","h":5.5,"v":10.87},{"p":"Annual","s":"A","h":6.5,"v":10.85},{"p":"Annual","s":"A","h":7.5,"v":10.85},{"p":"Annual","s":"A","h":8.5,"v":10.84},{"p":"Annual","s":"A","h":9.5,"v":10.81},{"p":"Annual","s":"A","h":10.5,"v":10.75},{"p":"Annual","s":"A","h":11.5,"v":10.69},{"p":"Annual","s":"A","h":12.5,"v":10.61},{"p":"Annual","s":"A","h":13.5,"v":10.57},{"p":"Annual","s":"A","h":14.5,"v":10.52},{"p":"Annual","s":"A","h":15.5,"v":10.46},{"p":"Annual","s":"A","h":16.5,"v":10.45},{"p":"Annual","s":"A","h":17.5,"v":10.53},{"p":"Annual","s":"A","h":18.5,"v":10.65},{"p":"Annual","s":"A","h":19.5,"v":10.85},{"p":"Annual","s":"A","h":20.5,"v":11.05},{"p":"Annual","s":"A","h":21.5,"v":11.18},{"p":"Annual","s":"A","h":22.5,"v":11.29},{"p":"Annual","s":"A","h":23.5,"v":11.3},
{"p":"Annual","s":"M","h":0.5,"v":11.04},{"p":"Annual","s":"M","h":1.5,"v":10.92},{"p":"Annual","s":"M","h":2.5,"v":10.78},{"p":"Annual","s":"M","h":3.5,"v":10.72},{"p":"Annual","s":"M","h":4.5,"v":10.64},{"p":"Annual","s":"M","h":5.5,"v":10.63},{"p":"Annual","s":"M","h":6.5,"v":10.68},{"p":"Annual","s":"M","h":7.5,"v":10.66},{"p":"Annual","s":"M","h":8.5,"v":10.68},{"p":"Annual","s":"M","h":9.5,"v":10.74},{"p":"Annual","s":"M","h":10.5,"v":10.7},{"p":"Annual","s":"M","h":11.5,"v":10.6},{"p":"Annual","s":"M","h":12.5,"v":10.59},{"p":"Annual","s":"M","h":13.5,"v":10.6},{"p":"Annual","s":"M","h":14.5,"v":10.48},{"p":"Annual","s":"M","h":15.5,"v":10.32},{"p":"Annual","s":"M","h":16.5,"v":10.32},{"p":"Annual","s":"M","h":17.5,"v":10.43},{"p":"Annual","s":"M","h":18.5,"v":10.54},{"p":"Annual","s":"M","h":19.5,"v":10.85},{"p":"Annual","s":"M","h":20.5,"v":11.08},{"p":"Annual","s":"M","h":21.5,"v":11.2},{"p":"Annual","s":"M","h":22.5,"v":11.2},{"p":"Annual","s":"M","h":23.5,"v":11.08},
{"p":"Annual","s":"Y","h":0.5,"v":12.3},{"p":"Annual","s":"Y","h":1.5,"v":12.25},{"p":"Annual","s":"Y","h":2.5,"v":12.1},{"p":"Annual","s":"Y","h":3.5,"v":11.9},{"p":"Annual","s":"Y","h":4.5,"v":11.85},{"p":"Annual","s":"Y","h":5.5,"v":11.75},{"p":"Annual","s":"Y","h":6.5,"v":11.7},{"p":"Annual","s":"Y","h":7.5,"v":11.7},{"p":"Annual","s":"Y","h":8.5,"v":11.7},{"p":"Annual","s":"Y","h":9.5,"v":11.7},{"p":"Annual","s":"Y","h":10.5,"v":11.55},{"p":"Annual","s":"Y","h":11.5,"v":11.5},{"p":"Annual","s":"Y","h":12.5,"v":11.45},{"p":"Annual","s":"Y","h":13.5,"v":11.4},{"p":"Annual","s":"Y","h":14.5,"v":11.4},{"p":"Annual","s":"Y","h":15.5,"v":11.25},{"p":"Annual","s":"Y","h":16.5,"v":11.25},{"p":"Annual","s":"Y","h":17.5,"v":11.4},{"p":"Annual","s":"Y","h":18.5,"v":11.6},{"p":"Annual","s":"Y","h":19.5,"v":11.8},{"p":"Annual","s":"Y","h":20.5,"v":12.0},{"p":"Annual","s":"Y","h":21.5,"v":12.2},{"p":"Annual","s":"Y","h":22.5,"v":12.3},{"p":"Annual","s":"Y","h":23.5,"v":12.35},
{"p":"Annual","s":"Y","h":0.5,"v":12.0},{"p":"Annual","s":"Y","h":1.5,"v":11.9},{"p":"Annual","s":"Y","h":2.5,"v":11.8},{"p":"Annual","s":"Y","h":3.5,"v":11.65},{"p":"Annual","s":"Y","h":4.5,"v":11.6},{"p":"Annual","s":"Y","h":5.5,"v":11.55},{"p":"Annual","s":"Y","h":6.5,"v":11.55},{"p":"Annual","s":"Y","h":7.5,"v":11.6},{"p":"Annual","s":"Y","h":8.5,"v":11.55},{"p":"Annual","s":"Y","h":9.5,"v":11.5},{"p":"Annual","s":"Y","h":10.5,"v":11.45},{"p":"Annual","s":"Y","h":11.5,"v":11.4},{"p":"Annual","s":"Y","h":12.5,"v":11.3},{"p":"Annual","s":"Y","h":13.5,"v":11.25},{"p":"Annual","s":"Y","h":14.5,"v":11.2},{"p":"Annual","s":"Y","h":15.5,"v":11.1},{"p":"Annual","s":"Y","h":16.5,"v":11.1},{"p":"Annual","s":"Y","h":17.5,"v":11.2},{"p":"Annual","s":"Y","h":18.5,"v":11.4},{"p":"Annual","s":"Y","h":19.5,"v":11.6},{"p":"Annual","s":"Y","h":20.5,"v":11.85},{"p":"Annual","s":"Y","h":21.5,"v":12.0},{"p":"Annual","s":"Y","h":22.5,"v":12.1},{"p":"Annual","s":"Y","h":23.5,"v":12.2},
{"p":"Annual","s":"Y","h":0.5,"v":11.75},{"p":"Annual","s":"Y","h":1.5,"v":11.65},{"p":"Annual","s":"Y","h":2.5,"v":11.55},{"p":"Annual","s":"Y","h":3.5,"v":11.4},{"p":"Annual","s":"Y","h":4.5,"v":11.35},{"p":"Annual","s":"Y","h":5.5,"v":11.3},{"p":"Annual","s":"Y","h":6.5,"v":11.3},{"p":"Annual","s":"Y","h":7.5,"v":11.3},{"p":"Annual","s":"Y","h":8.5,"v":11.25},{"p":"Annual","s":"Y","h":9.5,"v":11.2},{"p":"Annual","s":"Y","h":10.5,"v":11.2},{"p":"Annual","s":"Y","h":11.5,"v":11.15},{"p":"Annual","s":"Y","h":12.5,"v":11.1},{"p":"Annual","s":"Y","h":13.5,"v":11.05},{"p":"Annual","s":"Y","h":14.5,"v":11.0},{"p":"Annual","s":"Y","h":15.5,"v":10.95},{"p":"Annual","s":"Y","h":16.5,"v":10.9},{"p":"Annual","s":"Y","h":17.5,"v":11.0},{"p":"Annual","s":"Y","h":18.5,"v":11.15},{"p":"Annual","s":"Y","h":19.5,"v":11.35},{"p":"Annual","s":"Y","h":20.5,"v":11.6},{"p":"Annual","s":"Y","h":21.5,"v":11.75},{"p":"Annual","s":"Y","h":22.5,"v":11.85},{"p":"Annual","s":"Y","h":23.5,"v":11.9},
{"p":"Annual","s":"Y","h":0.5,"v":11.5},{"p":"Annual","s":"Y","h":1.5,"v":11.4},{"p":"Annual","s":"Y","h":2.5,"v":11.3},{"p":"Annual","s":"Y","h":3.5,"v":11.2},{"p":"Annual","s":"Y","h":4.5,"v":11.15},{"p":"Annual","s":"Y","h":5.5,"v":11.1},{"p":"Annual","s":"Y","h":6.5,"v":11.05},{"p":"Annual","s":"Y","h":7.5,"v":11.05},{"p":"Annual","s":"Y","h":8.5,"v":11.05},{"p":"Annual","s":"Y","h":9.5,"v":11.0},{"p":"Annual","s":"Y","h":10.5,"v":10.95},{"p":"Annual","s":"Y","h":11.5,"v":10.9},{"p":"Annual","s":"Y","h":12.5,"v":10.85},{"p":"Annual","s":"Y","h":13.5,"v":10.8},{"p":"Annual","s":"Y","h":14.5,"v":10.75},{"p":"Annual","s":"Y","h":15.5,"v":10.7},{"p":"Annual","s":"Y","h":16.5,"v":10.7},{"p":"Annual","s":"Y","h":17.5,"v":10.8},{"p":"Annual","s":"Y","h":18.5,"v":10.95},{"p":"Annual","s":"Y","h":19.5,"v":11.15},{"p":"Annual","s":"Y","h":20.5,"v":11.4},{"p":"Annual","s":"Y","h":21.5,"v":11.55},{"p":"Annual","s":"Y","h":22.5,"v":11.6},{"p":"Annual","s":"Y","h":23.5,"v":11.65},
{"p":"Annual","s":"Y","h":0.5,"v":11.1},{"p":"Annual","s":"Y","h":1.5,"v":11.0},{"p":"Annual","s":"Y","h":2.5,"v":10.9},{"p":"Annual","s":"Y","h":3.5,"v":10.85},{"p":"Annual","s":"Y","h":4.5,"v":10.8},{"p":"Annual","s":"Y","h":5.5,"v":10.75},{"p":"Annual","s":"Y","h":6.5,"v":10.75},{"p":"Annual","s":"Y","h":7.5,"v":10.75},{"p":"Annual","s":"Y","h":8.5,"v":10.7},{"p":"Annual","s":"Y","h":9.5,"v":10.7},{"p":"Annual","s":"Y","h":10.5,"v":10.65},{"p":"Annual","s":"Y","h":11.5,"v":10.6},{"p":"Annual","s":"Y","h":12.5,"v":10.55},{"p":"Annual","s":"Y","h":13.5,"v":10.5},{"p":"Annual","s":"Y","h":14.5,"v":10.45},{"p":"Annual","s":"Y","h":15.5,"v":10.35},{"p":"Annual","s":"Y","h":16.5,"v":10.35},{"p":"Annual","s":"Y","h":17.5,"v":10.45},{"p":"Annual","s":"Y","h":18.5,"v":10.6},{"p":"Annual","s":"Y","h":19.5,"v":10.85},{"p":"Annual","s":"Y","h":20.5,"v":11.1},{"p":"Annual","s":"Y","h":21.5,"v":11.25},{"p":"Annual","s":"Y","h":22.5,"v":11.35},{"p":"Annual","s":"Y","h":23.5,"v":11.4},
{"p":"Annual","s":"Y","h":0.5,"v":10.9},{"p":"Annual","s":"Y","h":1.5,"v":10.8},{"p":"Annual","s":"Y","h":2.5,"v":10.7},{"p":"Annual","s":"Y","h":3.5,"v":10.6},{"p":"Annual","s":"Y","h":4.5,"v":10.55},{"p":"Annual","s":"Y","h":5.5,"v":10.5},{"p":"Annual","s":"Y","h":6.5,"v":10.5},{"p":"Annual","s":"Y","h":7.5,"v":10.55},{"p":"Annual","s":"Y","h":8.5,"v":10.5},{"p":"Annual","s":"Y","h":9.5,"v":10.45},{"p":"Annual","s":"Y","h":10.5,"v":10.4},{"p":"Annual","s":"Y","h":11.5,"v":10.35},{"p":"Annual","s":"Y","h":12.5,"v":10.3},{"p":"Annual","s":"Y","h":13.5,"v":10.25},{"p":"Annual","s":"Y","h":14.5,"v":10.2},{"p":"Annual","s":"Y","h":15.5,"v":10.1},{"p":"Annual","s":"Y","h":16.5,"v":10.05},{"p":"Annual","s":"Y","h":17.5,"v":10.15},{"p":"Annual","s":"Y","h":18.5,"v":10.35},{"p":"Annual","s":"Y","h":19.5,"v":10.6},{"p":"Annual","s":"Y","h":20.5,"v":10.85},{"p":"Annual","s":"Y","h":21.5,"v":11.0},{"p":"Annual","s":"Y","h":22.5,"v":11.05},{"p":"Annual","s":"Y","h":23.5,"v":11.0},
{"p":"Annual","s":"Y","h":0.5,"v":10.7},{"p":"Annual","s":"Y","h":1.5,"v":10.55},{"p":"Annual","s":"Y","h":2.5,"v":10.45},{"p":"Annual","s":"Y","h":3.5,"v":10.35},{"p":"Annual","s":"Y","h":4.5,"v":10.3},{"p":"Annual","s":"Y","h":5.5,"v":10.25},{"p":"Annual","s":"Y","h":6.5,"v":10.3},{"p":"Annual","s":"Y","h":7.5,"v":10.3},{"p":"Annual","s":"Y","h":8.5,"v":10.3},{"p":"Annual","s":"Y","h":9.5,"v":10.25},{"p":"Annual","s":"Y","h":10.5,"v":10.2},{"p":"Annual","s":"Y","h":11.5,"v":10.15},{"p":"Annual","s":"Y","h":12.5,"v":10.1},{"p":"Annual","s":"Y","h":13.5,"v":10.0},{"p":"Annual","s":"Y","h":14.5,"v":9.95},{"p":"Annual","s":"Y","h":15.5,"v":9.85},{"p":"Annual","s":"Y","h":16.5,"v":9.85},{"p":"Annual","s":"Y","h":17.5,"v":9.9},{"p":"Annual","s":"Y","h":18.5,"v":10.1},{"p":"Annual","s":"Y","h":19.5,"v":10.4},{"p":"Annual","s":"Y","h":20.5,"v":10.6},{"p":"Annual","s":"Y","h":21.5,"v":10.8},{"p":"Annual","s":"Y","h":22.5,"v":10.8},{"p":"Annual","s":"Y","h":23.5,"v":10.75},
{"p":"Annual","s":"Y","h":0.5,"v":10.45},{"p":"Annual","s":"Y","h":1.5,"v":10.35},{"p":"Annual","s":"Y","h":2.5,"v":10.25},{"p":"Annual","s":"Y","h":3.5,"v":10.15},{"p":"Annual","s":"Y","h":4.5,"v":10.1},{"p":"Annual","s":"Y","h":5.5,"v":10.1},{"p":"Annual","s":"Y","h":6.5,"v":10.1},{"p":"Annual","s":"Y","h":7.5,"v":10.15},{"p":"Annual","s":"Y","h":8.5,"v":10.1},{"p":"Annual","s":"Y","h":9.5,"v":10.1},{"p":"Annual","s":"Y","h":10.5,"v":10.05},{"p":"Annual","s":"Y","h":11.5,"v":10.0},{"p":"Annual","s":"Y","h":12.5,"v":9.9},{"p":"Annual","s":"Y","h":13.5,"v":9.85},{"p":"Annual","s":"Y","h":14.5,"v":9.8},{"p":"Annual","s":"Y","h":15.5,"v":9.7},{"p":"Annual","s":"Y","h":16.5,"v":9.7},{"p":"Annual","s":"Y","h":17.5,"v":9.75},{"p":"Annual","s":"Y","h":18.5,"v":9.9},{"p":"Annual","s":"Y","h":19.5,"v":10.15},{"p":"Annual","s":"Y","h":20.5,"v":10.35},{"p":"Annual","s":"Y","h":21.5,"v":10.55},{"p":"Annual","s":"Y","h":22.5,"v":10.6},{"p":"Annual","s":"Y","h":23.5,"v":10.5},
{"p":"Annual","s":"Y","h":0.5,"v":10.15},{"p":"Annual","s":"Y","h":1.5,"v":10.0},{"p":"Annual","s":"Y","h":2.5,"v":9.9},{"p":"Annual","s":"Y","h":3.5,"v":9.8},{"p":"Annual","s":"Y","h":4.5,"v":9.78},{"p":"Annual","s":"Y","h":5.5,"v":9.85},{"p":"Annual","s":"Y","h":6.5,"v":9.8},{"p":"Annual","s":"Y","h":7.5,"v":9.85},{"p":"Annual","s":"Y","h":8.5,"v":9.85},{"p":"Annual","s":"Y","h":9.5,"v":9.9},{"p":"Annual","s":"Y","h":10.5,"v":9.9},{"p":"Annual","s":"Y","h":11.5,"v":9.85},{"p":"Annual","s":"Y","h":12.5,"v":9.65},{"p":"Annual","s":"Y","h":13.5,"v":9.65},{"p":"Annual","s":"Y","h":14.5,"v":9.65},{"p":"Annual","s":"Y","h":15.5,"v":9.5},{"p":"Annual","s":"Y","h":16.5,"v":9.5},{"p":"Annual","s":"Y","h":17.5,"v":9.5},{"p":"Annual","s":"Y","h":18.5,"v":9.65},{"p":"Annual","s":"Y","h":19.5,"v":9.9},{"p":"Annual","s":"Y","h":20.5,"v":10.0},{"p":"Annual","s":"Y","h":21.5,"v":10.3},{"p":"Annual","s":"Y","h":22.5,"v":10.3},{"p":"Annual","s":"Y","h":23.5,"v":10.2},
{"p":"Annual","s":"Y","h":0.5,"v":11.65},{"p":"Annual","s":"Y","h":1.5,"v":11.8},{"p":"Annual","s":"Y","h":2.5,"v":11.9},{"p":"Annual","s":"Y","h":3.5,"v":11.3},{"p":"Annual","s":"Y","h":4.5,"v":11.5},{"p":"Annual","s":"Y","h":5.5,"v":11.6},{"p":"Annual","s":"Y","h":6.5,"v":11.5},{"p":"Annual","s":"Y","h":7.5,"v":11.5},{"p":"Annual","s":"Y","h":8.5,"v":11.6},{"p":"Annual","s":"Y","h":9.5,"v":11.4},{"p":"Annual","s":"Y","h":10.5,"v":11.3},{"p":"Annual","s":"Y","h":11.5,"v":11.3},{"p":"Annual","s":"Y","h":12.5,"v":11.0},{"p":"Annual","s":"Y","h":13.5,"v":11.3},{"p":"Annual","s":"Y","h":14.5,"v":11.1},{"p":"Annual","s":"Y","h":15.5,"v":11.2},{"p":"Annual","s":"Y","h":16.5,"v":11.0},{"p":"Annual","s":"Y","h":17.5,"v":10.6},{"p":"Annual","s":"Y","h":18.5,"v":11.1},{"p":"Annual","s":"Y","h":19.5,"v":11.7},{"p":"Annual","s":"Y","h":20.5,"v":11.9},{"p":"Annual","s":"Y","h":21.5,"v":11.4},{"p":"Annual","s":"Y","h":22.5,"v":12.25},{"p":"Annual","s":"Y","h":23.5,"v":12.1}
]},
"hconcat":[
{"title":{"text":"Wind Speed (m/s)","orient":"left","anchor":"middle","offset":12,"dx":14,"fontSize":29.5},
 "hconcat":[
 {"data":{"name":"d"},"columns":2,"bounds":"flush","spacing":{"row":16,"column":14},
  "title":{"text":"Hour of Day","orient":"bottom","anchor":"middle","offset":6,"dx":10},
  "concat":[
  {"transform":[{"filter":"datum.p=='Spring'"}],"width":171,"height":181,
   "layer":[
    {"transform":[{"filter":"datum.s=='Y'"}],
     "mark":{"type":"point","filled":false,"fill":"#619CFF","fillOpacity":0.25,"strokeOpacity":0.5,"strokeWidth":1,"size":26,"opacity":1},
     "encoding":{
      "x":{"field":"h","type":"quantitative","scale":{"domain":[-0.24,24.24],"nice":false,"zero":false},"axis":{"values":[0,2,4,6,8,10,12,14,16,18,20,22,24],"tickCount":100,"format":"d","title":null,"labels":false,"ticks":false,"gridWidth":{"condition":{"test":"datum.value%4==0","value":1.1},"value":0.6}}},
      "y":{"field":"v","type":"quantitative","scale":{"domain":[6.92,17.55],"nice":false,"zero":false},"axis":{"values":[7,8,9,10,11,12,13,14,15],"tickCount":100,"format":"d","title":null,"labelOverlap":false,"labelExpr":"datum.value%2==1?datum.label:''","tickOpacity":{"condition":{"test":"datum.value%2==1","value":1},"value":0},"gridWidth":{"condition":{"test":"datum.value%2==1","value":1.1},"value":0.6}}},
      "color":{"field":"s","type":"nominal","scale":{"domain":["A","M","Y"],"range":["#F8766D","#00BA38","#619CFF"]},
       "legend":{"title":null,"orient":"none","legendX":817,"legendY":153,"padding":0,"symbolType":"M-1,0L1,0M0.15,0A0.15,0.15,0,1,1,-0.15,0A0.15,0.15,0,1,1,0.15,0","symbolSize":1296,"symbolStrokeWidth":1.5,"labelFontSize":21,"labelColor":"#000000","labelOffset":20,"labelLimit":400,"rowPadding":14,"labelExpr":"datum.label=='A'?'Average':datum.label=='M'?'Year 2014 (Median Year)':'Years 2000-2019'","encode":{"symbols":{"update":{"fill":{"scale":"color","field":"value"},"stroke":{"scale":"color","field":"value"},"opacity":{"value":1},"fillOpacity":{"value":1},"strokeOpacity":{"value":1}}}}}}}},
    {"transform":[{"filter":"datum.s!='Y'"}],"mark":{"type":"line","strokeWidth":1.2},
     "encoding":{"x":{"field":"h","type":"quantitative"},"y":{"field":"v","type":"quantitative"},"color":{"field":"s","type":"nominal","legend":null}}},
    {"transform":[{"filter":"datum.s!='Y'"}],"mark":{"type":"point","filled":true,"size":30,"opacity":1},
     "encoding":{"x":{"field":"h","type":"quantitative"},"y":{"field":"v","type":"quantitative"},"color":{"field":"s","type":"nominal","legend":null}}},
    {"transform":[{"aggregate":[{"op":"count","as":"n"}],"groupby":["p"]}],
     "layer":[
      {"mark":{"type":"rect","fill":"#d9d9d9","stroke":"#333333","strokeWidth":1.2},"encoding":{"y":{"datum":15.08,"type":"quantitative"},"y2":{"datum":17.55}}},
      {"mark":{"type":"text","fontSize":21,"color":"#1a1a1a","baseline":"middle"},"encoding":{"y":{"datum":16.315,"type":"quantitative"},"text":{"field":"p"}}}
     ]}
   ]},
  {"transform":[{"filter":"datum.p=='Summer'"}],"width":171,"height":181,
   "layer":[
    {"transform":[{"filter":"datum.s=='Y'"}],
     "mark":{"type":"point","filled":false,"fill":"#619CFF","fillOpacity":0.25,"strokeOpacity":0.5,"strokeWidth":1,"size":26,"opacity":1},
     "encoding":{
      "x":{"field":"h","type":"quantitative","scale":{"domain":[-0.24,24.24],"nice":false,"zero":false},"axis":{"values":[0,2,4,6,8,10,12,14,16,18,20,22,24],"tickCount":100,"format":"d","title":null,"labels":false,"ticks":false,"gridWidth":{"condition":{"test":"datum.value%4==0","value":1.1},"value":0.6}}},
      "y":{"field":"v","type":"quantitative","scale":{"domain":[6.92,17.55],"nice":false,"zero":false},"axis":{"values":[7,8,9,10,11,12,13,14,15],"tickCount":100,"format":"d","title":null,"labels":false,"ticks":false,"gridWidth":{"condition":{"test":"datum.value%2==1","value":1.1},"value":0.6}}},
      "color":{"field":"s","type":"nominal","scale":{"domain":["A","M","Y"],"range":["#F8766D","#00BA38","#619CFF"]},"legend":null}}},
    {"transform":[{"filter":"datum.s!='Y'"}],"mark":{"type":"line","strokeWidth":1.2},
     "encoding":{"x":{"field":"h","type":"quantitative"},"y":{"field":"v","type":"quantitative"},"color":{"field":"s","type":"nominal","legend":null}}},
    {"transform":[{"filter":"datum.s!='Y'"}],"mark":{"type":"point","filled":true,"size":30,"opacity":1},
     "encoding":{"x":{"field":"h","type":"quantitative"},"y":{"field":"v","type":"quantitative"},"color":{"field":"s","type":"nominal","legend":null}}},
    {"transform":[{"aggregate":[{"op":"count","as":"n"}],"groupby":["p"]}],
     "layer":[
      {"mark":{"type":"rect","fill":"#d9d9d9","stroke":"#333333","strokeWidth":1.2},"encoding":{"y":{"datum":15.08,"type":"quantitative"},"y2":{"datum":17.55}}},
      {"mark":{"type":"text","fontSize":21,"color":"#1a1a1a","baseline":"middle"},"encoding":{"y":{"datum":16.315,"type":"quantitative"},"text":{"field":"p"}}}
     ]}
   ]},
  {"transform":[{"filter":"datum.p=='Fall'"}],"width":171,"height":181,
   "layer":[
    {"transform":[{"filter":"datum.s=='Y'"}],
     "mark":{"type":"point","filled":false,"fill":"#619CFF","fillOpacity":0.25,"strokeOpacity":0.5,"strokeWidth":1,"size":26,"opacity":1},
     "encoding":{
      "x":{"field":"h","type":"quantitative","scale":{"domain":[-0.24,24.24],"nice":false,"zero":false},"axis":{"values":[0,2,4,6,8,10,12,14,16,18,20,22,24],"tickCount":100,"format":"d","title":null,"labelOverlap":false,"labelExpr":"datum.value%4==0?datum.label:''","tickOpacity":{"condition":{"test":"datum.value%4==0","value":1},"value":0},"gridWidth":{"condition":{"test":"datum.value%4==0","value":1.1},"value":0.6}}},
      "y":{"field":"v","type":"quantitative","scale":{"domain":[6.92,17.55],"nice":false,"zero":false},"axis":{"values":[7,8,9,10,11,12,13,14,15],"tickCount":100,"format":"d","title":null,"labelOverlap":false,"labelExpr":"datum.value%2==1?datum.label:''","tickOpacity":{"condition":{"test":"datum.value%2==1","value":1},"value":0},"gridWidth":{"condition":{"test":"datum.value%2==1","value":1.1},"value":0.6}}},
      "color":{"field":"s","type":"nominal","scale":{"domain":["A","M","Y"],"range":["#F8766D","#00BA38","#619CFF"]},"legend":null}}},
    {"transform":[{"filter":"datum.s!='Y'"}],"mark":{"type":"line","strokeWidth":1.2},
     "encoding":{"x":{"field":"h","type":"quantitative"},"y":{"field":"v","type":"quantitative"},"color":{"field":"s","type":"nominal","legend":null}}},
    {"transform":[{"filter":"datum.s!='Y'"}],"mark":{"type":"point","filled":true,"size":30,"opacity":1},
     "encoding":{"x":{"field":"h","type":"quantitative"},"y":{"field":"v","type":"quantitative"},"color":{"field":"s","type":"nominal","legend":null}}},
    {"transform":[{"aggregate":[{"op":"count","as":"n"}],"groupby":["p"]}],
     "layer":[
      {"mark":{"type":"rect","fill":"#d9d9d9","stroke":"#333333","strokeWidth":1.2},"encoding":{"y":{"datum":15.08,"type":"quantitative"},"y2":{"datum":17.55}}},
      {"mark":{"type":"text","fontSize":21,"color":"#1a1a1a","baseline":"middle"},"encoding":{"y":{"datum":16.315,"type":"quantitative"},"text":{"field":"p"}}}
     ]}
   ]},
  {"transform":[{"filter":"datum.p=='Winter'"}],"width":171,"height":181,
   "layer":[
    {"transform":[{"filter":"datum.s=='Y'"}],
     "mark":{"type":"point","filled":false,"fill":"#619CFF","fillOpacity":0.25,"strokeOpacity":0.5,"strokeWidth":1,"size":26,"opacity":1},
     "encoding":{
      "x":{"field":"h","type":"quantitative","scale":{"domain":[-0.24,24.24],"nice":false,"zero":false},"axis":{"values":[0,2,4,6,8,10,12,14,16,18,20,22,24],"tickCount":100,"format":"d","title":null,"labelOverlap":false,"labelExpr":"datum.value%4==0?datum.label:''","tickOpacity":{"condition":{"test":"datum.value%4==0","value":1},"value":0},"gridWidth":{"condition":{"test":"datum.value%4==0","value":1.1},"value":0.6}}},
      "y":{"field":"v","type":"quantitative","scale":{"domain":[6.92,17.55],"nice":false,"zero":false},"axis":{"values":[7,8,9,10,11,12,13,14,15],"tickCount":100,"format":"d","title":null,"labels":false,"ticks":false,"gridWidth":{"condition":{"test":"datum.value%2==1","value":1.1},"value":0.6}}},
      "color":{"field":"s","type":"nominal","scale":{"domain":["A","M","Y"],"range":["#F8766D","#00BA38","#619CFF"]},"legend":null}}},
    {"transform":[{"filter":"datum.s!='Y'"}],"mark":{"type":"line","strokeWidth":1.2},
     "encoding":{"x":{"field":"h","type":"quantitative"},"y":{"field":"v","type":"quantitative"},"color":{"field":"s","type":"nominal","legend":null}}},
    {"transform":[{"filter":"datum.s!='Y'"}],"mark":{"type":"point","filled":true,"size":30,"opacity":1},
     "encoding":{"x":{"field":"h","type":"quantitative"},"y":{"field":"v","type":"quantitative"},"color":{"field":"s","type":"nominal","legend":null}}},
    {"transform":[{"aggregate":[{"op":"count","as":"n"}],"groupby":["p"]}],
     "layer":[
      {"mark":{"type":"rect","fill":"#d9d9d9","stroke":"#333333","strokeWidth":1.2},"encoding":{"y":{"datum":15.08,"type":"quantitative"},"y2":{"datum":17.55}}},
      {"mark":{"type":"text","fontSize":21,"color":"#1a1a1a","baseline":"middle"},"encoding":{"y":{"datum":16.315,"type":"quantitative"},"text":{"field":"p"}}}
     ]}
   ]}
  ]}
 ]},
{"data":{"name":"d"},"transform":[{"filter":"datum.p=='Annual'"}],"width":320,"height":376,
 "layer":[
  {"transform":[{"filter":"datum.s=='Y'"}],
   "mark":{"type":"point","filled":false,"fill":"#619CFF","fillOpacity":0.25,"strokeOpacity":0.5,"strokeWidth":1,"size":26,"opacity":1},
   "encoding":{
    "x":{"field":"h","type":"quantitative","scale":{"domain":[-0.24,24.24],"nice":false,"zero":false},"axis":{"values":[0,2,4,6,8,10,12,14,16,18,20,22,24],"tickCount":100,"format":"d","title":"Hour of Day","labelOverlap":false,"labelExpr":"datum.value%4==0?datum.label:''","tickOpacity":{"condition":{"test":"datum.value%4==0","value":1},"value":0},"gridWidth":{"condition":{"test":"datum.value%4==0","value":1.1},"value":0.6}}},
    "y":{"field":"v","type":"quantitative","scale":{"domain":[6.92,16.08],"nice":false,"zero":false},"axis":{"values":[7,8,9,10,11,12,13,14,15],"tickCount":100,"format":"d","title":"Wind Speed (m/s)","titleX":-37,"titleY":210,"labelOverlap":false,"labelExpr":"datum.value%2==1?datum.label:''","tickOpacity":{"condition":{"test":"datum.value%2==1","value":1},"value":0},"gridWidth":{"condition":{"test":"datum.value%2==1","value":1.1},"value":0.6}}},
    "color":{"field":"s","type":"nominal","scale":{"domain":["A","M","Y"],"range":["#F8766D","#00BA38","#619CFF"]},"legend":null}}},
  {"transform":[{"filter":"datum.s!='Y'"}],"mark":{"type":"line","strokeWidth":1.2},
   "encoding":{"x":{"field":"h","type":"quantitative"},"y":{"field":"v","type":"quantitative"},"color":{"field":"s","type":"nominal","legend":null}}},
  {"transform":[{"filter":"datum.s!='Y'"}],"mark":{"type":"point","filled":true,"size":30,"opacity":1},
   "encoding":{"x":{"field":"h","type":"quantitative"},"y":{"field":"v","type":"quantitative"},"color":{"field":"s","type":"nominal","legend":null}}},
  {"transform":[{"aggregate":[{"op":"count","as":"n"}],"groupby":["p"]}],
   "layer":[
    {"mark":{"type":"rect","fill":"#d9d9d9","stroke":"#333333","strokeWidth":1.2},"encoding":{"y":{"datum":15.08,"type":"quantitative"},"y2":{"datum":16.08}}},
    {"mark":{"type":"text","fontSize":21,"color":"#1a1a1a","baseline":"middle"},"encoding":{"y":{"datum":15.58,"type":"quantitative"},"text":{"field":"p"}}}
   ]}
 ]}
]}
